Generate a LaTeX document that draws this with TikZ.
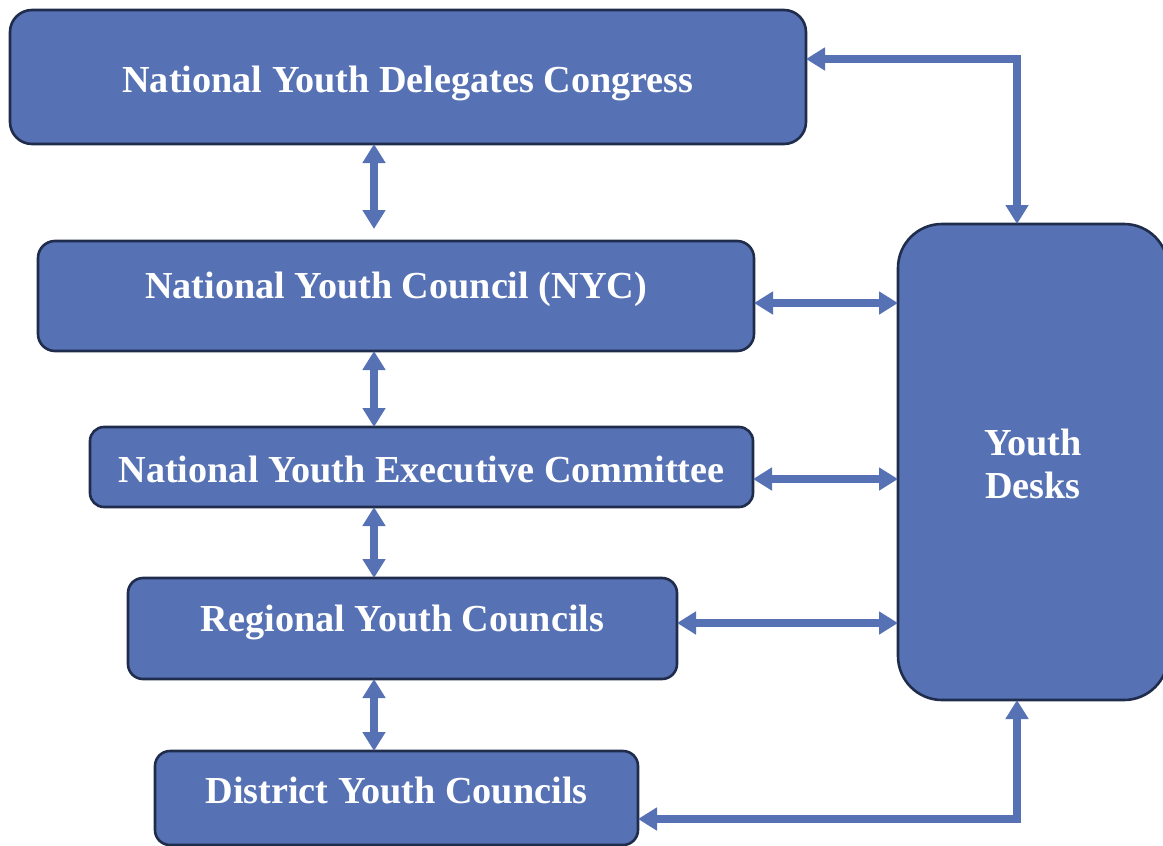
\documentclass[tikz,border=0pt]{standalone}
\usepackage{fontspec}
\setmainfont{Liberation Serif}
\usetikzlibrary{arrows.meta,calc}

\definecolor{boxfill}{HTML}{5672B4}
\definecolor{boxline}{HTML}{1F2C4C}
\definecolor{linkcol}{HTML}{5672B4}

\tikzset{
  orgbox/.style={draw=boxline, fill=boxfill, line width=2.6pt, inner sep=0pt, outer sep=0pt},
  lbl/.style={text=white, font=\fontsize{38.2}{43}\selectfont\bfseries, inner sep=0pt},
  biarrow/.style={draw=linkcol, line width=7.2pt,
    {Triangle[length=19pt,width=22pt]}-{Triangle[length=19pt,width=22pt]}},
}

\begin{document}
\begin{tikzpicture}[x=1pt, y=-1pt]
  \useasboundingbox (0,0) rectangle (1163,846);
  \clip (0,0) rectangle (1163,846);

  % hierarchy boxes (centre, size, corner radius)
  \node[orgbox, rounded corners=22pt, minimum width=796pt, minimum height=134pt] (b1) at (408,77) {};
  \node[orgbox, rounded corners=17pt, minimum width=716pt, minimum height=110pt] (b2) at (396,296) {};
  \node[orgbox, rounded corners=14pt, minimum width=663pt, minimum height=80pt]  (b3) at (421.5,467) {};
  \node[orgbox, rounded corners=15pt, minimum width=549pt, minimum height=101pt] (b4) at (402.5,628.5) {};
  \node[orgbox, rounded corners=15pt, minimum width=483pt, minimum height=94pt]  (b5) at (396.5,798) {};
  \node[orgbox, rounded corners=44pt, minimum width=270pt, minimum height=476pt] (yd) at (1033,462) {};

  % box captions
  \node[lbl, anchor=base] (t1) at (408,92)    {National Youth Delegates Congress};
  \node[lbl, anchor=base] (t2) at (396,298)   {National Youth Council (NYC)};
  \node[lbl, anchor=base] (t3) at (421.5,482) {National Youth Executive Committee};
  \node[lbl, anchor=base] (t4) at (402.5,631) {Regional Youth Councils};
  \node[lbl, anchor=base] (t5) at (396.5,803) {District Youth Councils};
  \node[lbl, align=center] (t6) at (1033,464) {Youth\\Desks};

  % guide coordinates for the connectors
  \coordinate (spine) at (374,0);
  \coordinate (col) at (1017,0);
  \coordinate (r1) at (0,59);
  \coordinate (r2) at (0,303);
  \coordinate (r3) at (0,479);
  \coordinate (r4) at (0,623);
  \coordinate (r5) at (0,819);

  % vertical chain
  \draw[biarrow] (b1.south -| spine) -- ($(b2.north -| spine)+(0,-12)$);
  \draw[biarrow] (b2.south -| spine) -- (b3.north -| spine);
  \draw[biarrow] (b3.south -| spine) -- (b4.north -| spine);
  \draw[biarrow] (b4.south -| spine) -- (b5.north -| spine);

  % links to the youth desks
  \draw[biarrow] (b2.east |- r2) -- (yd.west |- r2);
  \draw[biarrow] (b3.east |- r3) -- (yd.west |- r3);
  \draw[biarrow] (b4.east |- r4) -- (yd.west |- r4);
  \draw[biarrow] (yd.north -| col) |- (b1.east |- r1);
  \draw[biarrow] (yd.south -| col) |- (b5.east |- r5);
\end{tikzpicture}
\end{document}
